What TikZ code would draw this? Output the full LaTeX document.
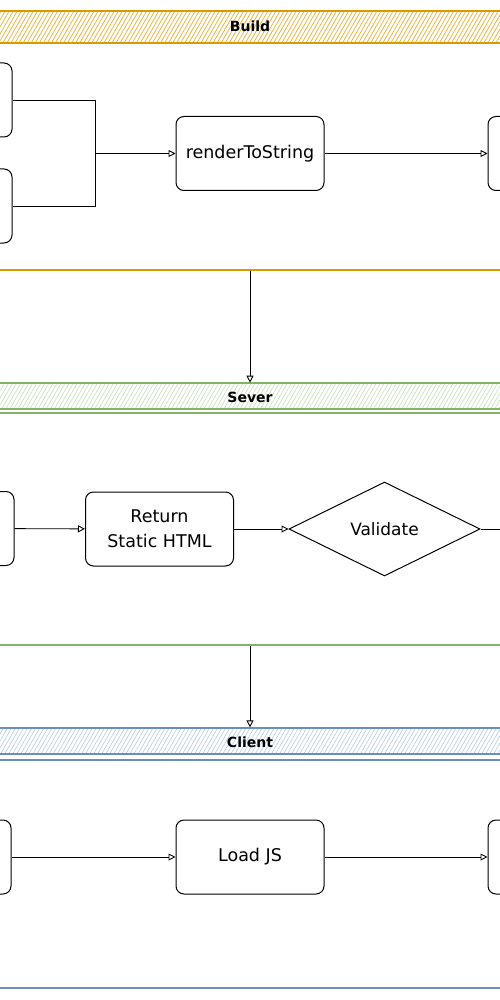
\documentclass[tikz,border=0pt]{standalone}
\usepackage{fontspec}
\setmainfont{DejaVu Sans}
\usetikzlibrary{shapes.geometric,patterns.meta,arrows.meta}
\definecolor{buildline}{HTML}{D79B00}
\definecolor{buildhatch}{HTML}{F2B33D}
\definecolor{severline}{HTML}{82B366}
\definecolor{severhatch}{HTML}{C3E0B4}
\definecolor{clientline}{HTML}{6C8EBF}
\definecolor{clienthatch}{HTML}{B4CBEA}

\begin{document}
\begin{tikzpicture}[x=1pt, y=-1pt]
	\tikzstyle{proc}  = [rectangle, rounded corners=8pt, minimum width=148pt, minimum height=74pt, inner sep=0pt, draw=black, line width=1pt, fill=white, font=\fontsize{17.5}{25}\selectfont, align=center]
	\tikzstyle{check} = [diamond, minimum width=191pt, minimum height=94pt, inner sep=0pt, draw=black, line width=1pt, fill=white, font=\fontsize{17}{22}\selectfont]
	\tikzstyle{head}  = [rectangle, minimum width=560pt, inner sep=0pt, line width=1.2pt]
	\tikzstyle{title} = [font=\fontsize{14}{16}\selectfont\bfseries]
	\tikzstyle{lane}  = [rectangle, minimum width=560pt, inner sep=0pt, line width=1.2pt]
	\tikzstyle{flow}  = [-{Triangle[open, length=7pt, width=7pt]}, line width=0.9pt]

	\useasboundingbox (0,0) rectangle (500,1000);
	\clip (0,0) rectangle (500,1000);

	% lanes
	\node[head, draw=buildline, pattern={Lines[angle=60, distance=3.5pt, line width=0.8pt]}, pattern color=buildhatch, minimum height=32pt] (buildhead) at (250,27) {};
	\node[title] (buildtitle) at (250,26) {Build};
	\node[lane, draw=buildline, minimum height=227pt] (buildlane) at (250,156.5) {};

	\node[head, draw=severline, pattern={Lines[angle=60, distance=3.5pt, line width=0.6pt]}, pattern color=severhatch, minimum height=26pt] (severhead) at (250,396) {};
	\node[title] (severtitle) at (250,397) {Sever};
	\node[lane, draw=severline, minimum height=232pt] (severlane) at (250,529) {};

	\node[head, draw=clientline, pattern={Lines[angle=60, distance=3.5pt, line width=0.6pt]}, pattern color=clienthatch, minimum height=26pt] (clienthead) at (250,741) {};
	\node[title] (clienttitle) at (250,742) {Client};
	\node[lane, draw=clientline, minimum height=228pt] (clientlane) at (250,874) {};

	% build
	\foreach \name/\x/\y/\text in {src1/-62/100/, src2/-62/206/, render/250/153.5/renderToString, bundle/562/153.5/}
		\node[proc] (\name) at (\x, \y) {\text};
	\coordinate (join) at (95,153.5);
	\draw[line width=0.9pt] (src1.east) -| (join);
	\draw[line width=0.9pt] (src2.east) -| (join);
	\draw[flow] (join) -- (render);
	\draw[flow] (render) -- (bundle);

	% sever
	\foreach \name/\x/\y/\text in {request/-60/528.5/, ret/159.5/529/Return\\Static HTML}
		\node[proc] (\name) at (\x, \y) {\text};
	\node[check] (validate) at (384.5,529) {Validate};
	\coordinate (next) at (530,529);
	\draw[flow] (request) -- (ret);
	\draw[flow] (ret) -- (validate);
	\draw[line width=0.9pt] (validate.east) -- (next);

	% client
	\foreach \name/\x/\y/\text in {page/-63/857/, load/250/857/Load JS, hydrate/562/857/}
		\node[proc] (\name) at (\x, \y) {\text};
	\draw[flow] (page) -- (load);
	\draw[flow] (load) -- (hydrate);

	% between lanes
	\draw[flow] (buildlane.south) -- (severhead.north);
	\draw[flow] (severlane.south) -- (clienthead.north);
\end{tikzpicture}
\end{document}
